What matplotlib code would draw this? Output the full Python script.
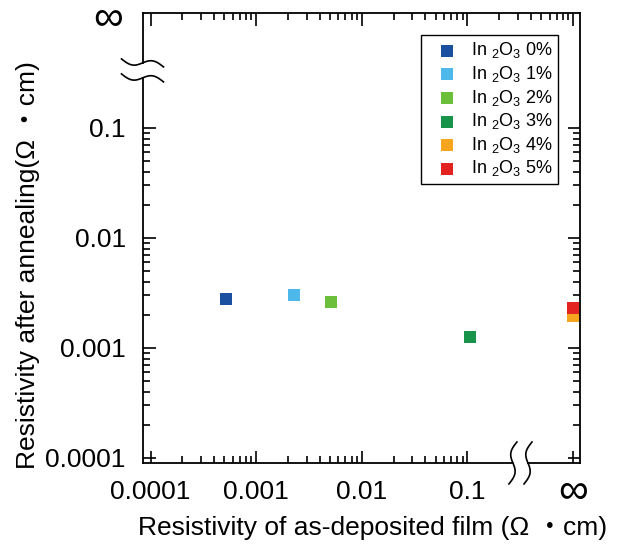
import numpy as np
import matplotlib
matplotlib.use('Agg')
import matplotlib.pyplot as plt
from matplotlib.ticker import FixedLocator, FixedFormatter, NullFormatter

plt.rcParams['font.family'] = ['Liberation Sans', 'Noto Sans CJK JP']
plt.rcParams['mathtext.fontset'] = 'custom'
plt.rcParams['mathtext.rm'] = 'Liberation Sans'
plt.rcParams['mathtext.default'] = 'regular'

# data (np.inf = "infinite" resistivity)
series_labels = ['In $_2$O$_3$ 0%', 'In $_2$O$_3$ 1%', 'In $_2$O$_3$ 2%',
                 'In $_2$O$_3$ 3%', 'In $_2$O$_3$ 4%', 'In $_2$O$_3$ 5%']
as_deposited = [5.2e-4, 2.3e-3, 5.15e-3, 0.106, np.inf, np.inf]
after_anneal = [2.8e-3, 3.0e-3, 2.6e-3, 1.26e-3, 1.95e-3, 2.3e-3]
colors = ['#1b4f9f', '#4cb9ea', '#6cbf3b', '#17944a', '#f6a51f', '#e3231f']

tick_vals = [1e-4, 1e-3, 1e-2, 1e-1]
tick_labels = ['0.0001', '0.001', '0.01', '0.1']

INF_POS = 1.0              # where "infinity" sits on the log axes
X_BREAK = (0.27, 0.375)     # gap in bottom spine
Y_BREAK = (0.285, 0.39)     # gap in left spine
XLIM = (0.84e-4, 1.165)
YLIM = (0.9e-4, 1.11)


def to_frac(v, lim):
    lo, hi = np.log10(lim)
    return (np.log10(v) - lo) / (hi - lo)


fig = plt.figure(figsize=(6.3, 5.54), dpi=100)
ax = fig.add_axes([0.2262, 0.1643, 0.6944, 0.8123])
ax.set_xscale('log')
ax.set_yscale('log')
ax.set_xlim(*XLIM)
ax.set_ylim(*YLIM)

for xs, ys, c, lab in zip(as_deposited, after_anneal, colors, series_labels):
    xp = INF_POS if np.isinf(xs) else xs
    ax.scatter([xp], [ys], marker='s', s=85, color=c, linewidths=0,
               label=lab, zorder=3, clip_on=False)

minor_bottom = [k * 10.0 ** e for e in range(-4, -1) for k in range(2, 10)]
minor_top = [k * 10.0 ** e for e in range(-4, 0) for k in range(2, 10)]

ax.xaxis.set_major_locator(FixedLocator(tick_vals + [INF_POS]))
ax.xaxis.set_major_formatter(FixedFormatter(tick_labels + ['']))
ax.xaxis.set_minor_locator(FixedLocator(minor_bottom))
ax.xaxis.set_minor_formatter(NullFormatter())
ax.yaxis.set_major_locator(FixedLocator(tick_vals))
ax.yaxis.set_major_formatter(FixedFormatter(tick_labels))
ax.yaxis.set_minor_locator(FixedLocator(minor_bottom))
ax.yaxis.set_minor_formatter(NullFormatter())

ax.tick_params(which='both', direction='in', width=1.2, colors='black')
ax.tick_params(which='major', length=9)
ax.tick_params(which='minor', length=5)
ax.tick_params(axis='x', labelsize=19, pad=12)
ax.tick_params(axis='y', which='both', left=True, right=True, labelsize=19, pad=12)

# top axis carries the full decade ticks up to infinity
ax2 = ax.twiny()
ax2.set_xscale('log')
ax2.set_xlim(*XLIM)
ax2.xaxis.set_major_locator(FixedLocator(tick_vals + [INF_POS]))
ax2.xaxis.set_minor_locator(FixedLocator(minor_top))
ax2.xaxis.set_major_formatter(NullFormatter())
ax2.xaxis.set_minor_formatter(NullFormatter())
ax2.tick_params(which='both', direction='in', width=1.2, top=True, labeltop=False)
ax2.tick_params(which='major', length=9)
ax2.tick_params(which='minor', length=5)
for s in ax2.spines.values():
    s.set_visible(False)

for s in ax.spines.values():
    s.set_linewidth(1.3)
ax.spines['left'].set_visible(False)
ax.spines['bottom'].set_visible(False)

# broken left and bottom spines
line_kw = dict(color='black', lw=1.3, clip_on=False, zorder=4)
yt = ax.get_yaxis_transform()
xt = ax.get_xaxis_transform()
ax.plot([0, 0], [YLIM[0], Y_BREAK[0]], transform=yt, **line_kw)
ax.plot([0, 0], [Y_BREAK[1], YLIM[1]], transform=yt, **line_kw)
ax.plot([XLIM[0], X_BREAK[0]], [0, 0], transform=xt, **line_kw)
ax.plot([X_BREAK[1], XLIM[1]], [0, 0], transform=xt, **line_kw)

t = np.linspace(-1, 1, 60)
wiggle = 4 * t - 4 * np.sin(np.pi * t)
for yb in Y_BREAK:
    yc = to_frac(yb, YLIM)
    ax.plot(t * 21 / 437.5, yc - wiggle / 450, transform=ax.transAxes,
            color='black', lw=1.2, clip_on=False, zorder=4)
for xb in X_BREAK:
    xc = to_frac(xb, XLIM)
    ax.plot(xc + wiggle / 437.5, t * 21 / 450, transform=ax.transAxes,
            color='black', lw=1.2, clip_on=False, zorder=4)

# infinity labels
ax.annotate('\u221e', xy=(INF_POS, 0), xycoords=xt, xytext=(0, -21),
            textcoords='offset points', ha='center', va='center', fontsize=30)
ax.annotate('\u221e', xy=(0, INF_POS), xycoords=yt, xytext=(-25, -1),
            textcoords='offset points', ha='center', va='center', fontsize=30)

ax.set_xlabel('Resistivity of as-deposited film (Ω \u30fbcm)', fontsize=19)
ax.xaxis.set_label_coords(0.527, -0.118)
ax.set_ylabel('Resistivity after annealing(Ω \u30fbcm)', fontsize=19)
ax.yaxis.set_label_coords(-0.235, 0.44)

leg = ax.legend(loc='upper right', bbox_to_anchor=(0.95, 0.951), fontsize=13,
                frameon=True, fancybox=False, edgecolor='black', framealpha=1,
                handletextpad=0.25, labelspacing=0.2, borderpad=0.3,
                handlelength=2.2, markerscale=0.95, borderaxespad=0)
leg.get_frame().set_linewidth(1.0)

fig.savefig('out.png', dpi=100)
